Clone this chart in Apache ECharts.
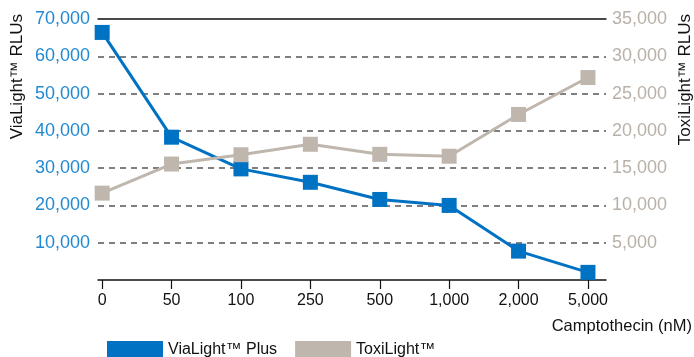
<!DOCTYPE html>
<html>
<head>
<meta charset="utf-8">
<script src="https://cdn.jsdelivr.net/npm/echarts@6/dist/echarts.min.js"></script>
<style>
  html, body { margin: 0; padding: 0; background: #fff; }
  #chart { width: 694px; height: 357px; }
</style>
</head>
<body>
<div id="chart"></div>
<script>
// camptothecin doses (nM)
const doses = ["0", "50", "100", "250", "500", "1,000", "2,000", "5,000"]
// ViaLight Plus RLUs (left axis)
const viaLight = [66400, 38300, 29800, 26200, 21600, 20000, 7750, 2050]
// ToxiLight RLUs (right axis)
const toxiLight = [11650, 15550, 16800, 18200, 16850, 16600, 22200, 27150]

const leftTicks = { min: 0, max: 70000, interval: 10000 }
const rightTicks = { min: 0, max: 35000, interval: 5000 }

const BLUE = "#0072c4"
const GREY = "#bfb7ae"
const FONT = "Liberation Sans"

let myChart = echarts.init(document.getElementById("chart"))
const idx = doses.map((d, i) => i)

const fmt = (v) => v.toLocaleString("en-US")

myChart.setOption({
  animation: false,
  textStyle: { fontFamily: FONT },
  grid: { left: 98, right: 88, top: 19, bottom: 77, containLabel: false },
  legend: {
    left: 102,
    top: 336,
    icon: "rect",
    itemWidth: 56,
    itemHeight: 18,
    itemGap: 18,
    textStyle: { fontFamily: FONT, fontSize: 16, color: "#111" },
    data: ["ViaLight™ Plus", "ToxiLight™"],
  },
  xAxis: [
    {
      type: "value",
      min: -0.06,
      max: 7.26,
      z: 5,
      axisLine: { show: true, onZero: false, lineStyle: { color: "#111", width: 1.5 } },
      axisTick: { show: true, customValues: idx, length: 9, lineStyle: { color: "#111", width: 1.2 } },
      axisLabel: {
        customValues: idx,
        margin: 13,
        fontSize: 16,
        color: "#111",
        formatter: (v) => doses[Math.round(v)],
      },
      splitLine: { show: false },
    },
    {
      type: "value",
      position: "top",
      min: -0.06,
      max: 7.26,
      z: 5,
      axisLine: { show: true, onZero: false, lineStyle: { color: "#111", width: 1.5 } },
      axisTick: { show: false },
      axisLabel: { show: false },
      splitLine: { show: false },
    },
  ],
  yAxis: [
    {
      type: "value",
      ...leftTicks,
      z: 0,
      axisLine: { show: false },
      axisTick: { show: false },
      axisLabel: {
        fontSize: 18,
        color: "#238ad2",
        margin: 8,
        showMinLabel: false,
        formatter: fmt,
      },
      splitLine: {
        show: true,
        showMinLine: false,
        showMaxLine: false,
        lineStyle: { color: "#555", width: 1.5, type: [6, 5] },
      },
    },
    {
      type: "value",
      ...rightTicks,
      position: "right",
      axisLine: { show: false },
      axisTick: { show: false },
      axisLabel: {
        fontSize: 18,
        color: "#b9b1a8",
        margin: 6,
        showMinLabel: false,
        formatter: fmt,
      },
      splitLine: { show: false },
    },
  ],
  graphic: [
    {
      type: "text",
      x: 17,
      y: 14,
      rotation: Math.PI / 2,
      style: { text: "ViaLight™ RLUs", font: "17px " + FONT, fill: "#111", align: "right", verticalAlign: "middle" },
    },
    {
      type: "text",
      x: 685,
      y: 14,
      rotation: Math.PI / 2,
      style: { text: "ToxiLight™ RLUs", font: "17px " + FONT, fill: "#111", align: "right", verticalAlign: "middle" },
    },
    {
      type: "text",
      right: 2,
      top: 318,
      style: { text: "Camptothecin (nM)", font: "16.5px " + FONT, fill: "#111" },
    },
  ],
  series: [
    {
      name: "ViaLight™ Plus",
      type: "line",
      yAxisIndex: 0,
      symbol: "rect",
      symbolSize: 15,
      z: 6,
      lineStyle: { color: BLUE, width: 3 },
      itemStyle: { color: BLUE },
      data: viaLight.map((v, i) => [i, v]),
    },
    {
      name: "ToxiLight™",
      type: "line",
      yAxisIndex: 1,
      symbol: "rect",
      symbolSize: 15,
      z: 6,
      lineStyle: { color: GREY, width: 3 },
      itemStyle: { color: GREY },
      data: toxiLight.map((v, i) => [i, v]),
    },
  ],
})

window.addEventListener("resize", () => {
  myChart.resize()
})
</script>
</body>
</html>
